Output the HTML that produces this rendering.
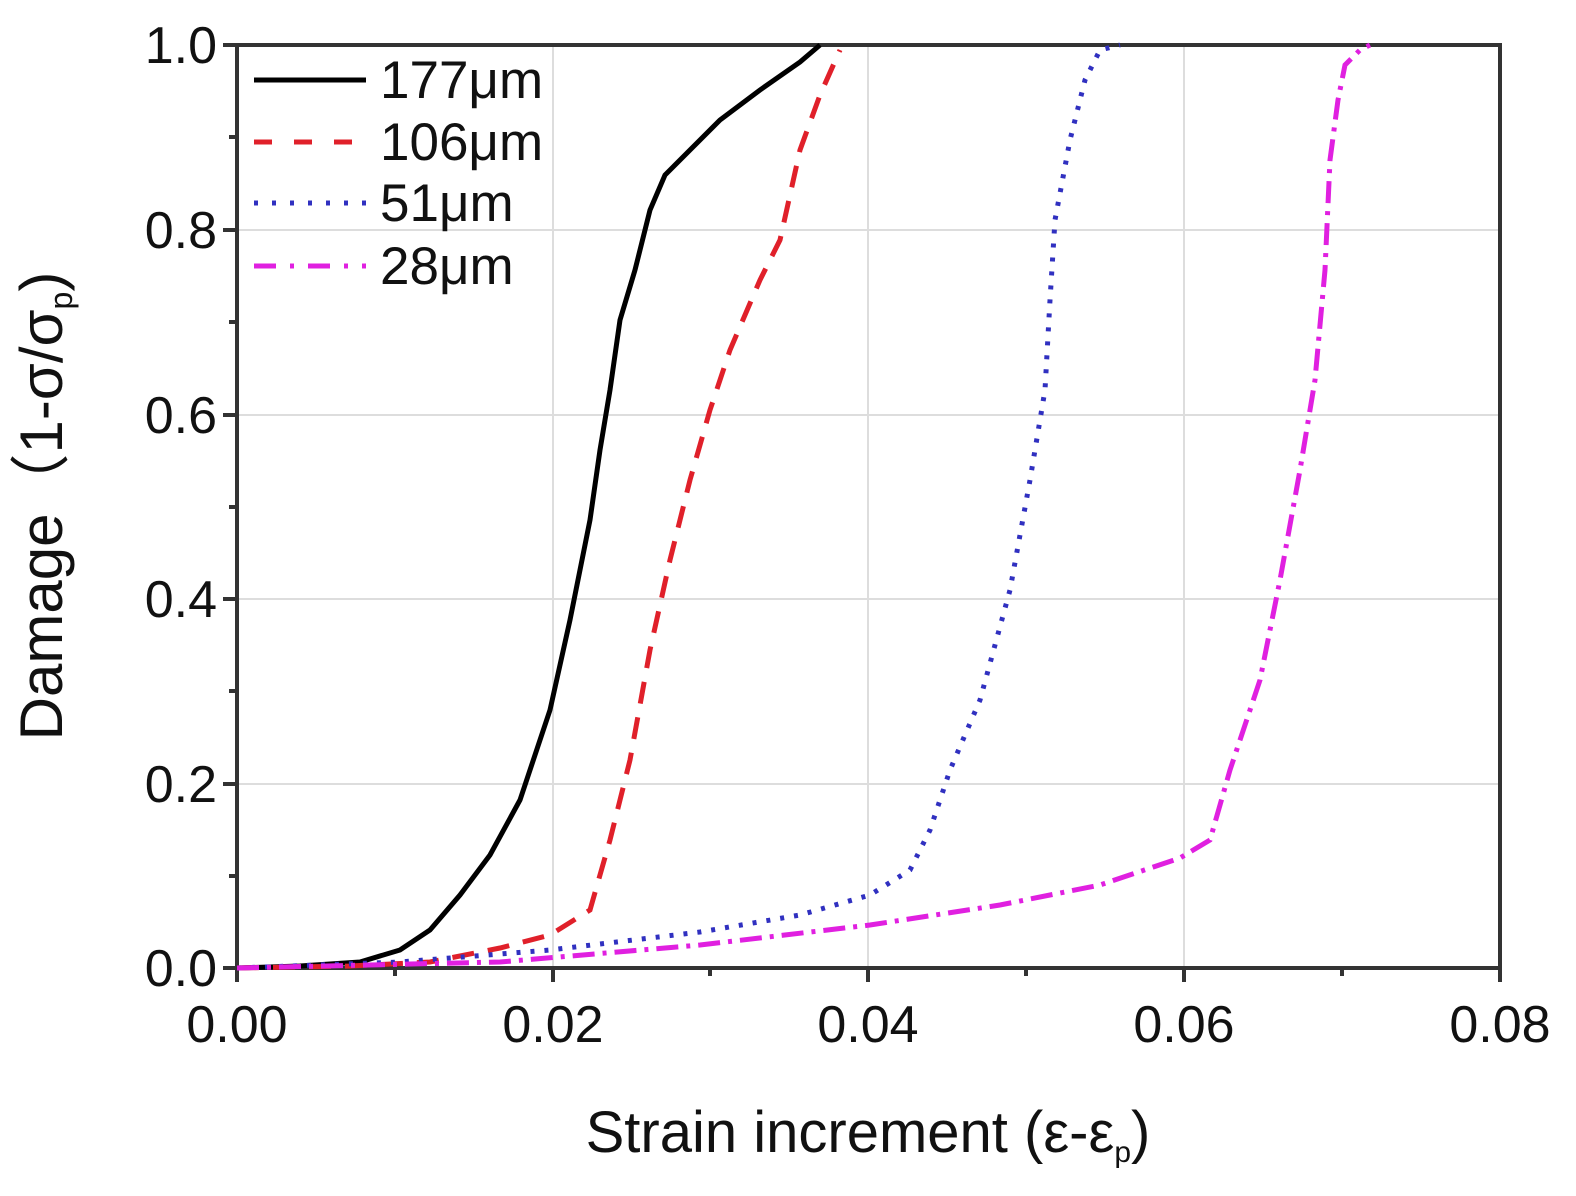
<!DOCTYPE html><html><head><style>body{margin:0;background:#fff}</style></head><body>
<svg width="1576" height="1191" xmlns="http://www.w3.org/2000/svg" font-family="Liberation Sans, sans-serif">
<g stroke="#ddd" stroke-width="2">
<line x1="553" y1="45" x2="553" y2="968"/><line x1="868" y1="45" x2="868" y2="968"/><line x1="1184" y1="45" x2="1184" y2="968"/>
<line x1="237" y1="230" x2="1500" y2="230"/><line x1="237" y1="415" x2="1500" y2="415"/><line x1="237" y1="599" x2="1500" y2="599"/><line x1="237" y1="784" x2="1500" y2="784"/>
</g>
<g stroke="#333" stroke-width="4" fill="none">
<rect x="237" y="45" width="1263" height="923"/>
<path d="M237 45h-14M237 230h-14M237 415h-14M237 599h-14M237 784h-14M237 968h-14M237 137h-8M237 322h-8M237 507h-8M237 691h-8M237 876h-8"/>
<path d="M237 968v14M553 968v14M868 968v14M1184 968v14M1500 968v14M395 968v8M710 968v8M1026 968v8M1342 968v8"/>
</g>
<g fill="none" stroke-width="5">
<polyline stroke="#000" points="237,968 300,966 360,962 400,950 430,930 460,895 490,855 520,800 550,710 570,620 590,520 600,450 610,390 620,320 635,270 650,210 665,175 690,150 720,120 760,90 800,62 820,45"/>
<polyline stroke="#e0202a" stroke-dasharray="22,14" points="237,968 350,966 430,962 500,948 550,935 590,910 610,840 630,760 650,650 670,560 690,480 710,410 730,350 760,280 780,240 800,150 820,95 840,50"/>
<polyline stroke="#3030c0" stroke-dasharray="4,10" points="237,968 400,962 550,950 700,932 800,915 870,895 910,870 930,830 950,770 980,700 1010,590 1030,480 1045,390 1050,300 1055,220 1070,140 1085,80 1100,50 1120,45"/>
<polyline stroke="#e020e0" stroke-dasharray="22,8,4,8" points="237,968 500,962 700,945 870,925 1000,905 1100,885 1180,858 1210,840 1230,770 1260,680 1280,580 1300,470 1315,380 1325,270 1330,160 1338,100 1345,65 1360,50 1370,45"/>
</g>
<g stroke-width="5">
<line x1="254" y1="80" x2="366" y2="80" stroke="#000"/>
<line x1="254" y1="142" x2="366" y2="142" stroke="#e0202a" stroke-dasharray="18,22"/>
<line x1="254" y1="203" x2="366" y2="203" stroke="#3030c0" stroke-dasharray="4,14"/>
<line x1="254" y1="266" x2="366" y2="266" stroke="#e020e0" stroke-dasharray="22,14,4,14"/>
</g>
<g font-size="53" fill="#111">
<text x="380" y="98">177μm</text><text x="380" y="160">106μm</text><text x="380" y="221">51μm</text><text x="380" y="284">28μm</text>
</g>
<g font-size="52" fill="#111" text-anchor="end">
<text x="217" y="63">1.0</text><text x="217" y="248">0.8</text><text x="217" y="433">0.6</text><text x="217" y="617">0.4</text><text x="217" y="802">0.2</text><text x="217" y="986">0.0</text>
</g>
<g font-size="52" fill="#111" text-anchor="middle">
<text x="237" y="1042">0.00</text><text x="553" y="1042">0.02</text><text x="868" y="1042">0.04</text><text x="1184" y="1042">0.06</text><text x="1500" y="1042">0.08</text>
<text x="868" y="1152" font-size="58">Strain increment (ε-ε<tspan font-size="30" dy="10">p</tspan><tspan dy="-10">)</tspan></text>
</g>
<text transform="translate(62,506) rotate(-90)" font-size="60" fill="#111" text-anchor="middle">Damage（1-σ/σ<tspan font-size="32" dy="10">p</tspan><tspan dy="-10">)</tspan></text>
</svg>
</body></html>
